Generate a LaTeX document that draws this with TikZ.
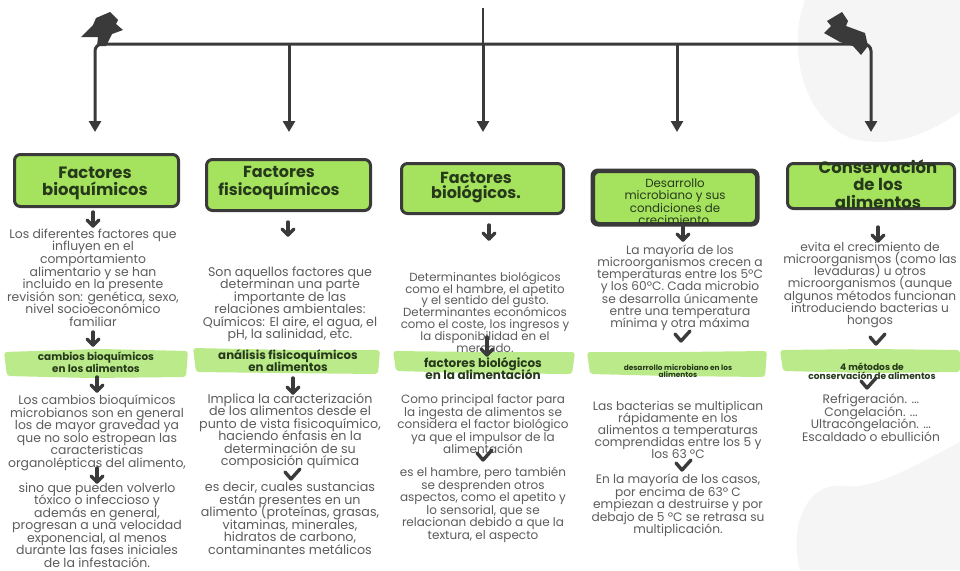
\documentclass[tikz,border=0pt]{standalone}
\usepackage{fontspec}
\setmainfont{Poppins}
\usetikzlibrary{arrows.meta}
\definecolor{lime}{HTML}{A5E25E}
\definecolor{barlime}{HTML}{BBEA8A}
\definecolor{ink}{HTML}{3A3A3A}
\definecolor{bodygray}{HTML}{5C5C5C}
\definecolor{headink}{HTML}{26391B}
\definecolor{blob}{HTML}{F5F5F5}
\newcommand{\tightlines}{\lineskiplimit -1000pt\relax}
\tikzset{
  trunk/.style={draw=ink, line width=3pt},
  tipdown/.style={-{Triangle[width=12pt,length=11pt]}},
  hdrbox/.style={draw=ink, line width=3pt, fill=lime, rounded corners=6pt, inner sep=0pt},
  hd/.style 2 args={text=headink, align=center, inner sep=0pt, anchor=base, font={\fontsize{#1}{#2}\selectfont\tightlines\bfseries}},
  hdl/.style 2 args={text=headink, align=center, inner sep=0pt, anchor=base, font={\fontsize{#1}{#2}\selectfont\tightlines}},
  bt/.style 2 args={text=bodygray, align=center, inner sep=0pt, anchor=base, font={\fontsize{#1}{#2}\selectfont\tightlines}},
  bar/.style={fill=barlime, rounded corners=3pt},
  icon/.style={draw=ink, line width=3.4pt, line cap=round, line join=round},
}
\newcommand{\dnarrow}[3]{%
  \draw[icon] (#1,#2) -- (#1,#3);
  \draw[icon] (#1-6,#3-6) -- (#1,#3) -- (#1+6,#3-6);}
\newcommand{\chev}[2]{%
  \draw[icon] (#1-7,#2-4) -- (#1-1,#2+3) -- (#1+8,#2-7);}
\begin{document}
\begin{tikzpicture}[x=1pt,y=-1pt]
\useasboundingbox (0,0) rectangle (960,570);
\fill[white] (0,0) rectangle (960,570);
% faint background blobs
\fill[blob] (805,0) .. controls (788,45) and (800,115) .. (850,138) .. controls (900,152) and (940,125) .. (960,112) -- (960,0) -- cycle;
\fill[blob] (800,570) .. controls (788,525) and (808,482) .. (842,486) .. controls (875,490) and (910,468) .. (960,442) -- (960,570) -- cycle;

% ---- top connector tree ----
\coordinate (hub) at (483,44);
\coordinate (top) at (483,8);
\coordinate (d1) at (95,132);
\coordinate (d2) at (289,132);
\coordinate (d3) at (483,132);
\coordinate (d4) at (677,132);
\coordinate (d5) at (871,132);
\draw[draw=ink, line width=2pt] (top) -- (hub);
\draw[trunk, rounded corners=7pt, {Triangle[width=12pt,length=11pt]}-{Triangle[width=12pt,length=11pt]}] (d1) |- (hub) -| (d5);
\draw[trunk, tipdown] (289,44) -- (d2);
\draw[trunk, tipdown] (hub) -- (d3);
\draw[trunk, tipdown] (677,44) -- (d4);
% jagged end heads
\fill[ink] (110,12) -- (118,20) -- (116,24) -- (123,30) -- (112,34) -- (106,46) -- (97,46) -- (98,37) -- (81,37) -- (93,25) -- (96,18) -- cycle;
\fill[ink] (842,12) -- (848,21) -- (846,26) -- (865,33) -- (868,46) -- (861,55) -- (853,46) -- (840,42) -- (824,33) -- (831,26) -- (827,21) -- cycle;

% ---- header boxes ----
\node[hdrbox, minimum width=164pt, minimum height=52pt] (b1) at (96.5,180.5) {};
\node[hdrbox, minimum width=164pt, minimum height=51pt] (b2) at (288.5,185) {};
\node[hdrbox, minimum width=162pt, minimum height=50pt] (b3) at (482.5,188.5) {};
\node[hdrbox, minimum width=163pt, minimum height=52pt] (b4) at (675,197.5) {};
\node[hdrbox, minimum width=167pt, minimum height=45pt] (b5) at (871,186) {};
\node[hd={16.4}{17}] (h1) at (95,195) {Factores\\bioquímicos};
\node[hd={16}{18}] (h2) at (279,195) {Factores\\fisicoquímicos};
\node[hd={16}{15}] (h3) at (476,198) {Factores\\biológicos.};
\begin{scope}
  \clip (b4.north west) rectangle ([yshift=1.5pt]b4.south east);
  \node[hdl={11.8}{12.5}] (h4) at (675,224.5) {Desarrollo\\microbiano y sus\\condiciones de\\crecimiento.};
\end{scope}
\draw[draw=ink, line width=3pt, rounded corners=6pt] (b4.north west) rectangle (b4.south east);
\node[hd={16.5}{17.5}] (h5) at (878,208) {Conservación\\de los\\alimentos};

% ---- green bars ----
\fill[bar] (4,352) -- (100,349) -- (188,351) -- (186,377) -- (90,378) -- (7,376) -- cycle;
\fill[bar] (193,348) -- (290,350) -- (380,350) -- (378,374) -- (280,373) -- (196,372) -- cycle;
\fill[bar] (393,351) -- (480,352) -- (575,352) -- (572,374) -- (470,373) -- (396,371) -- cycle;
\fill[bar] (587,352) -- (680,352) -- (767,351) -- (765,377) -- (670,376) -- (590,374) -- cycle;
\fill[bar] (780,350) -- (870,349) -- (960,350) -- (960,372) -- (870,373) -- (783,371) -- cycle;
\node[hd={10.4}{12}] (g1) at (96,372.5) {cambios bioquímicos\\en los alimentos};
\node[hd={11.8}{12}] (g2) at (288,371) {análisis fisicoquímicos\\en alimentos};
\node[hd={12}{12.5}] (g3) at (483,379.5) {factores biológicos\\en la alimentación};
\node[hd={7.4}{7}] (g4) at (678,377) {desarrollo microbiano en los\\alimentos};
\node[hd={9.1}{9.5}] (g5) at (872,379.5) {4 métodos de\\conservación de alimentos};

% ---- body texts ----
\node[bt={12.4}{12.6}] (p11) at (93,326.5) {Los diferentes factores que\\influyen en el\\comportamiento\\alimentario y se han\\incluido en la presente\\revisión son: genética, sexo,\\nivel socioeconómico\\familiar};
\node[bt={12.4}{12.6}] (p12) at (97,467.5) {Los cambios bioquímicos\\microbianos son en general\\los de mayor gravedad ya\\que no solo estropean las\\caracteristicas\\organolépticas del alimento,};
\node[bt={12.5}{12.5}] (p13) at (97,567) {sino que pueden volverlo\\tóxico o infeccioso y\\además en general,\\progresan a una velocidad\\exponencial, al menos\\durante las fases iniciales\\de la infestación.};

\node[bt={12.6}{12.4}] (p21) at (290,338.5) {Son aquellos factores que\\determinan una parte\\importante de las\\relaciones ambientales:\\Químicos: El aire, el agua, el\\pH, la salinidad, etc.};
\node[bt={12.7}{12.4}] (p22) at (290,465.5) {Implica la caracterización\\de los alimentos desde el\\punto de vista fisicoquímico,\\haciendo énfasis en la\\determinación de su\\composición química};
\node[bt={12.7}{12.5}] (p23) at (290,554) {es decir, cuales sustancias\\están presentes en un\\alimento (proteínas, grasas,\\vitaminas, minerales,\\hidratos de carbono,\\contaminantes metálicos};

\node[bt={11.8}{11.9}] (p31) at (485,352.5) {Determinantes biológicos\\como el hambre, el apetito\\y el sentido del gusto.\\Determinantes económicos\\como el coste, los ingresos y\\la disponibilidad en el\\mercado.};
\node[bt={12}{12.5}] (p32) at (483,453.5) {Como principal factor para\\la ingesta de alimentos se\\considera el factor biológico\\ya que el impulsor de la\\alimentación};
\node[bt={12}{12.6}] (p33) at (483,539.5) {es el hambre, pero también\\se desprenden otros\\aspectos, como el apetito y\\lo sensorial, que se\\relacionan debido a que la\\textura, el aspecto};

\node[bt={12.2}{12.2}] (p41) at (680,327.5) {La mayoría de los\\microorganismos crecen a\\temperaturas entre los 5ºC\\y los 60ºC. Cada microbio\\se desarrolla únicamente\\entre una temperatura\\mínima y otra máxima};
\node[bt={12.2}{12}] (p42) at (678,458.5) {Las bacterias se multiplican\\rápidamente en los\\alimentos a temperaturas\\comprendidas entre los 5 y\\los 63 ºC};
\node[bt={12.2}{12.6}] (p43) at (678,533.9) {En la mayoría de los casos,\\por encima de 63º C\\empiezan a destruirse y por\\debajo de 5 ºC se retrasa su\\multiplicación.};

\node[bt={12.2}{12.2}] (p51) at (870,324.5) {evita el crecimiento de\\microorganismos (como las\\levaduras) u otros\\microorganismos (aunque\\algunos métodos funcionan\\introduciendo bacterias u\\hongos};
\node[bt={12.3}{12.6}] (p52) at (871,441.3) {Refrigeración. ...\\Congelación. ...\\Ultracongelación. ...\\Escaldado o ebullición};

% ---- small arrow icons ----
\dnarrow{93}{212}{226}
\dnarrow{93}{332}{345}
\dnarrow{97}{377}{391}
\dnarrow{97}{468}{482}
\dnarrow{288}{222}{235}
\dnarrow{293}{378}{393}
\chev{292}{476}
\dnarrow{489}{225}{239}
\dnarrow{487}{337}{355}
\chev{484}{457}
\dnarrow{683}{227}{240}
\chev{682}{338}
\chev{683}{467}
\dnarrow{878}{227}{241}
\chev{877}{341}
\chev{868}{385}
\end{tikzpicture}
\end{document}
